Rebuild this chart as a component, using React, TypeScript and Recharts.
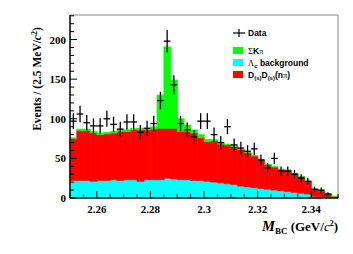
import React from "react";
import {
  ComposedChart,
  Bar,
  Scatter,
  ErrorBar,
  XAxis,
  YAxis,
  ReferenceLine,
} from "recharts";

// bin centres, 2.5 MeV bins from 2.25 to 2.35
const bins = [
  2.25125, 2.25375, 2.25625, 2.25875, 2.26125, 2.26375, 2.26625, 2.26875,
  2.27125, 2.27375, 2.27625, 2.27875, 2.28125, 2.28375, 2.28625, 2.28875,
  2.29125, 2.29375, 2.29625, 2.29875, 2.30125, 2.30375, 2.30625, 2.30875,
  2.31125, 2.31375, 2.31625, 2.31875, 2.32125, 2.32375, 2.32625, 2.32875,
  2.33125, 2.33375, 2.33625, 2.33875, 2.34125, 2.34375, 2.34625, 2.34875,
];

// Lambda_c background
const lcBkg = [
  22, 22, 22, 21, 22, 22, 23, 22, 23, 23, 21, 23, 23, 23, 25, 24, 23, 23, 22, 22,
  21, 20, 19, 18, 17, 15, 14, 13, 12, 11, 10, 9, 8, 7, 6, 5, 2, 1.5, 1, 1,
];

// D(s)D(s)(n pi)
const dsd = [
  53, 63, 63, 61, 58, 59, 59, 62, 61, 63, 65, 63, 64, 65, 63, 64, 61, 61, 60, 54,
  50, 52, 49, 49, 48, 46, 43, 40, 36, 31, 29, 27, 27, 24, 21, 16, 9, 7.5, 4, 1,
];

// Sigma K pi signal
const sigKPi = [
  1, 2, 2, 2, 2, 2, 2, 2, 2, 2, 2, 2, 3, 42, 103, 61, 16, 8, 4, 4,
  3, 2, 2, 1, 1, 0.5, 0.5, 0.5, 0.5, 0.5, 0.5, 0.5, 0.5, 0.3, 0.3, 0.3, 0.2, 0.2, 0.2, 0.1,
];

const counts = [
  97, 106, 95, 91, 91, 100, 93, 87, 96, 96, 83, 88, 94, 123, 198, 143, 94, 86, 77, 97,
  97, 80, 70, 90, 67, 63, 59, 62, 48, 38, 50, 34, 34, 30, 25, 21, 11, 10, 5, null,
];

const xTicks = [
  2.25, 2.255, 2.26, 2.265, 2.27, 2.275, 2.28, 2.285, 2.29, 2.295, 2.3,
  2.305, 2.31, 2.315, 2.32, 2.325, 2.33, 2.335, 2.34, 2.345, 2.35,
];
const xLabels = [2.26, 2.28, 2.3, 2.32, 2.34];

const yTicks = [
  0, 10, 20, 30, 40, 50, 60, 70, 80, 90, 100, 110, 120, 130, 140, 150, 160,
  170, 180, 190, 200, 210, 220, 230,
];
const yLabels = [0, 50, 100, 150, 200];

const halfBin = 0.00125;

const data = bins.map((x, i) => ({
  x,
  lc: lcBkg[i],
  dsd: dsd[i],
  sig: sigKPi[i],
  n: counts[i],
  err: counts[i] == null ? 0 : Math.sqrt(counts[i] as number),
  xerr: halfBin,
}));

const serif = "'Liberation Serif', 'DejaVu Serif', serif";
const sans = "'Liberation Sans', Arial, sans-serif";

const YTick = (props: any) => {
  const { x, y, payload } = props;
  const major = yLabels.includes(payload.value);
  return (
    <g>
      <line x1={x} x2={x + (major ? 7 : 4)} y1={y} y2={y} stroke="#000" strokeWidth={1} />
      {major && (
        <text x={x - 4} y={y + 4} textAnchor="end" fontFamily={serif} fontWeight="bold" fontSize={11} fill="#000">
          {payload.value}
        </text>
      )}
    </g>
  );
};

const XTick = (props: any) => {
  const { x, y, payload } = props;
  const major = xLabels.some((v) => Math.abs(v - payload.value) < 1e-6);
  return (
    <g>
      <line x1={x} x2={x} y1={y} y2={y - (major ? 7 : 4)} stroke="#000" strokeWidth={1} />
      {major && (
        <text x={x} y={y + 15} textAnchor="middle" fontFamily={serif} fontWeight="bold" fontSize={11} fill="#000">
          {payload.value}
        </text>
      )}
    </g>
  );
};

const LegendBox = () => (
  <g fontFamily={sans} fontWeight="bold" fontSize={8.5} fill="#000">
    <line x1={233} x2={245} y1={33} y2={33} stroke="#000" strokeWidth={1.2} />
    <line x1={239} x2={239} y1={29} y2={37} stroke="#000" strokeWidth={1.2} />
    <text x={248} y={36}>Data</text>

    <rect x={233} y={47} width={10} height={7} fill="#00ff00" />
    <text x={248} y={54}>
      <tspan fontFamily={serif} fontWeight="normal">Σ</tspan>K<tspan fontFamily={serif} fontWeight="normal">π</tspan>
    </text>

    <rect x={233} y={59} width={10} height={7} fill="#00ffff" />
    <text x={248} y={66}>
      <tspan fontFamily={serif} fontWeight="normal">Λ</tspan>
      <tspan fontSize={6} dy={2}>c</tspan>
      <tspan dy={-2}> background</tspan>
    </text>

    <rect x={233} y={71} width={10} height={7} fill="#ff0000" />
    <text x={248} y={78}>
      D<tspan fontSize={6} dy={2}>(s)</tspan>
      <tspan dy={-2}>D</tspan>
      <tspan fontSize={6} dy={2}>(s)</tspan>
      <tspan dy={-2}>(n</tspan>
      <tspan fontFamily={serif} fontWeight="normal">π</tspan>)
    </text>
  </g>
);

const AxisTitles = () => (
  <g fontFamily={serif} fontWeight="bold" fill="#000">
    <text transform="translate(41,79) rotate(-90)" textAnchor="middle" fontSize={11.5}>
      Events / (2.5 MeV/<tspan fontStyle="italic">c</tspan>
      <tspan fontSize={8} dy={-4}>2</tspan>
      <tspan dy={4}>)</tspan>
    </text>
    <text x={338} y={231} textAnchor="end" fontSize={13}>
      <tspan fontStyle="italic" fontSize={14.5}>M</tspan>
      <tspan fontSize={9} dy={3}>BC</tspan>
      <tspan dy={-3}> (GeV/</tspan>
      <tspan fontStyle="italic" fontWeight="normal">c</tspan>
      <tspan fontSize={8} dy={-5}>2</tspan>
      <tspan dy={5}>)</tspan>
    </text>
  </g>
);

export default function App() {
  return (
    <div style={{ position: "absolute", left: 0, top: 0, background: "#fff" }}>
      <ComposedChart
        width={353}
        height={254}
        data={data}
        margin={{ top: 15, right: 15, bottom: 26, left: 10 }}
        barCategoryGap={0}
        barGap={0}
      >
        <XAxis
          dataKey="x"
          type="number"
          domain={[2.25, 2.35]}
          ticks={xTicks}
          interval={0}
          height={30}
          tickSize={0}
          tickMargin={0}
          tick={XTick}
          axisLine={{ stroke: "#000", strokeWidth: 1.5 }}
        />
        <YAxis
          type="number"
          domain={[0, 231]}
          ticks={yTicks}
          interval={0}
          width={60}
          tickSize={0}
          tickMargin={0}
          tick={YTick}
          axisLine={{ stroke: "#000", strokeWidth: 1.5 }}
          allowDataOverflow
        />
        <Bar dataKey="lc" stackId="a" fill="#00ffff" stroke="#00ffff" strokeWidth={0.6} isAnimationActive={false} />
        <Bar dataKey="dsd" stackId="a" fill="#ff0000" stroke="#ff0000" strokeWidth={0.6} isAnimationActive={false} />
        <Bar dataKey="sig" stackId="a" fill="#00ff00" stroke="#00ff00" strokeWidth={0.6} isAnimationActive={false} />
        <ReferenceLine y={231} stroke="#888" strokeWidth={1} />
        <ReferenceLine x={2.35} stroke="#888" strokeWidth={1} />
        <Scatter dataKey="n" shape={() => <g />} isAnimationActive={false}>
          <ErrorBar dataKey="err" direction="y" width={0} stroke="#000" strokeWidth={1.3} />
          <ErrorBar dataKey="xerr" direction="x" width={0} stroke="#000" strokeWidth={1.3} />
        </Scatter>
        <LegendBox />
        <AxisTitles />
      </ComposedChart>
    </div>
  );
}
